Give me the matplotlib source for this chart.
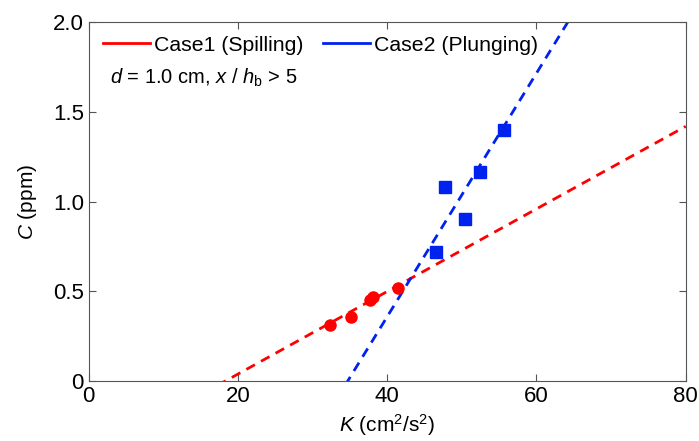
import matplotlib
matplotlib.use("Agg")
import matplotlib.pyplot as plt
import numpy as np

plt.rcParams['font.family'] = ['Liberation Sans', 'DejaVu Sans']
plt.rcParams['mathtext.fontset'] = 'custom'
plt.rcParams['mathtext.rm'] = 'Liberation Sans'
plt.rcParams['mathtext.it'] = 'Liberation Sans:italic'

case1_K = [32.3, 35.2, 37.7, 38.1, 41.5]
case1_C = [0.31, 0.356, 0.45, 0.47, 0.52]
case2_K = [46.6, 47.8, 50.4, 52.4, 55.7]
case2_C = [0.72, 1.08, 0.905, 1.165, 1.40]
fit1 = (0.0230, -0.421)   # slope, intercept
fit2 = (0.0678, -2.353)
xticks = [0, 20, 40, 60, 80]
yticks = [0, 0.5, 1.0, 1.5, 2.0]
ytick_labels = ['0', '0.5', '1.0', '1.5', '2.0']

fig = plt.figure(figsize=(6.99, 4.41), dpi=100)
ax = fig.add_axes([0.127, 0.136, 0.854, 0.814])

red = '#ff0000'
blue = '#0022ee'
xx = np.linspace(0, 80, 400)
ax.plot(xx, fit1[0] * xx + fit1[1], '--', color=red, lw=2, dashes=(3.5, 2.5))
ax.plot(xx, fit2[0] * xx + fit2[1], '--', color=blue, lw=2, dashes=(3.5, 2.5))
ax.plot(case1_K, case1_C, 'o', color=red, ms=8, mec=red)
ax.plot(case2_K, case2_C, 's', color=blue, ms=8, mec=blue)

h1, = ax.plot([], [], '-', color=red, lw=2)
h2, = ax.plot([], [], '-', color=blue, lw=2)
ax.legend([h1, h2], ['Case1 (Spilling)', 'Case2 (Plunging)'], ncol=2, frameon=False,
          loc='upper left', fontsize=15.3, handlelength=2.2, handletextpad=0.2,
          columnspacing=0.9, borderaxespad=0.0, bbox_to_anchor=(0.01, 0.985))
ax.text(0.035, 0.845, r'$d$ = 1.0 cm, $x$ / $h_\mathrm{b}$ > 5', transform=ax.transAxes,
        fontsize=14.5, va='center', ha='left')

ax.set_xlim(0, 80)
ax.set_ylim(0, 2.0)
ax.set_xticks(xticks)
ax.set_yticks(yticks)
ax.set_yticklabels(ytick_labels)
ax.tick_params(direction='in', top=True, right=True, labelsize=16, length=5, color='#555555')
for s in ax.spines.values():
    s.set_color('#555555')
ax.set_xlabel(r'$K$ (cm$^2$/s$^2$)', fontsize=15, labelpad=4)
ax.set_ylabel(r'$C$ (ppm)', fontsize=15, labelpad=10)

fig.savefig('out.png', dpi=100)
